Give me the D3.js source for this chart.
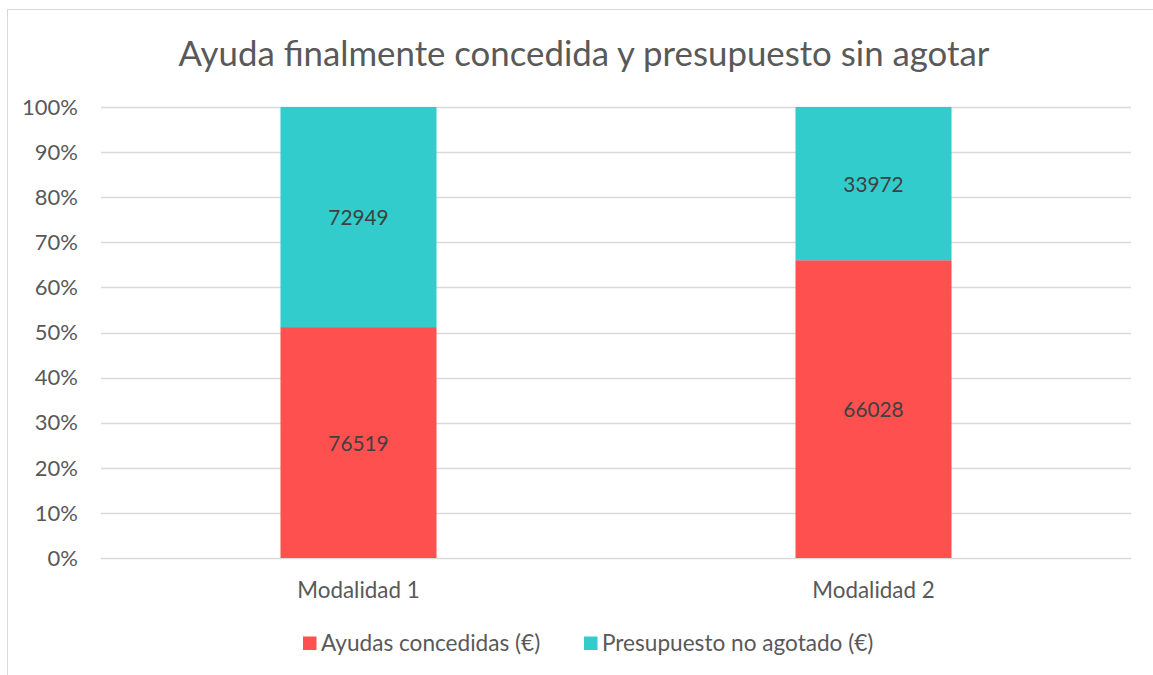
<!DOCTYPE html>
<html><head><meta charset="utf-8">
<script src="https://cdn.jsdelivr.net/npm/d3@7"></script>
<style>body{margin:0;background:#fff}svg{display:block}text{font-family:Lato,"Open Sans",sans-serif}</style>
</head><body><svg id="c" width="1153" height="675"></svg>
<script>
const categories = ["Modalidad 1", "Modalidad 2"];
const seriesNames = ["Ayudas concedidas (€)", "Presupuesto no agotado (€)"];
const ayudas = [76519, 66028];
const presupuesto = [72949, 33972];
const colors = ["#FF5050", "#33CCCC"];
const yTicks = [0, 0.1, 0.2, 0.3, 0.4, 0.5, 0.6, 0.7, 0.8, 0.9, 1];
const title = "Ayuda finalmente concedida y presupuesto sin agotar";

const svg = d3.select("#c");
svg.append("rect").attr("x", 7.5).attr("y", 9.5).attr("width", 1160).attr("height", 680)
  .attr("fill", "#fff").attr("stroke", "#d9d9d9").attr("stroke-width", 1);

const L = 101, R = 1131, T = 107, B = 558;
const x = d3.scaleBand().domain(categories).range([L, R]).padding(0);
const y = d3.scaleLinear().domain([0, 1]).range([B, T]);
const barW = x.bandwidth() * 0.303;

svg.append("text").attr("x", 584).attr("y", 66).attr("text-anchor", "middle")
  .attr("font-size", 34.8).attr("fill", "#595959").text(title);

const gy = svg.append("g");
yTicks.forEach(t => {
  gy.append("line").attr("x1", L).attr("x2", R).attr("y1", Math.round(y(t)) + 0.5).attr("y2", Math.round(y(t)) + 0.5)
    .attr("stroke", "#d9d9d9").attr("stroke-width", 1.3);
  gy.append("text").attr("x", 78).attr("y", y(t)).attr("dy", "0.35em").attr("text-anchor", "end")
    .attr("font-size", 22).attr("fill", "#595959").text(d3.format(".0%")(t));
});

const data = categories.map((c, i) => ({ c, vals: [ayudas[i], presupuesto[i]] }));
const stack = d3.stack().keys([0, 1]).value((d, k) => d.vals[k] / d3.sum(d.vals));
const layers = stack(data);
layers.forEach((layer, k) => {
  layer.forEach((seg, i) => {
    const cx = x(data[i].c) + x.bandwidth() / 2;
    svg.append("rect").attr("x", cx - barW / 2).attr("width", barW)
      .attr("y", y(seg[1])).attr("height", y(seg[0]) - y(seg[1])).attr("fill", colors[k]);
    svg.append("text").attr("x", cx).attr("y", (y(seg[0]) + y(seg[1])) / 2 + 1).attr("dy", "0.35em")
      .attr("text-anchor", "middle").attr("font-size", 20.8).attr("fill", "#404040").text(data[i].vals[k]);
  });
});

categories.forEach(c => {
  svg.append("text").attr("x", x(c) + x.bandwidth() / 2).attr("y", 590).attr("dy", "0.35em")
    .attr("text-anchor", "middle").attr("font-size", 22.4).attr("fill", "#595959").text(c);
});

const legX = [303, 584];
seriesNames.forEach((s, k) => {
  svg.append("rect").attr("x", legX[k]).attr("y", 636.5).attr("width", 13.5).attr("height", 13.5).attr("fill", colors[k]);
  svg.append("text").attr("x", legX[k] + 18).attr("y", 643).attr("dy", "0.35em")
    .attr("font-size", 22.6).attr("fill", "#595959").text(s);
});
</script></body></html>
